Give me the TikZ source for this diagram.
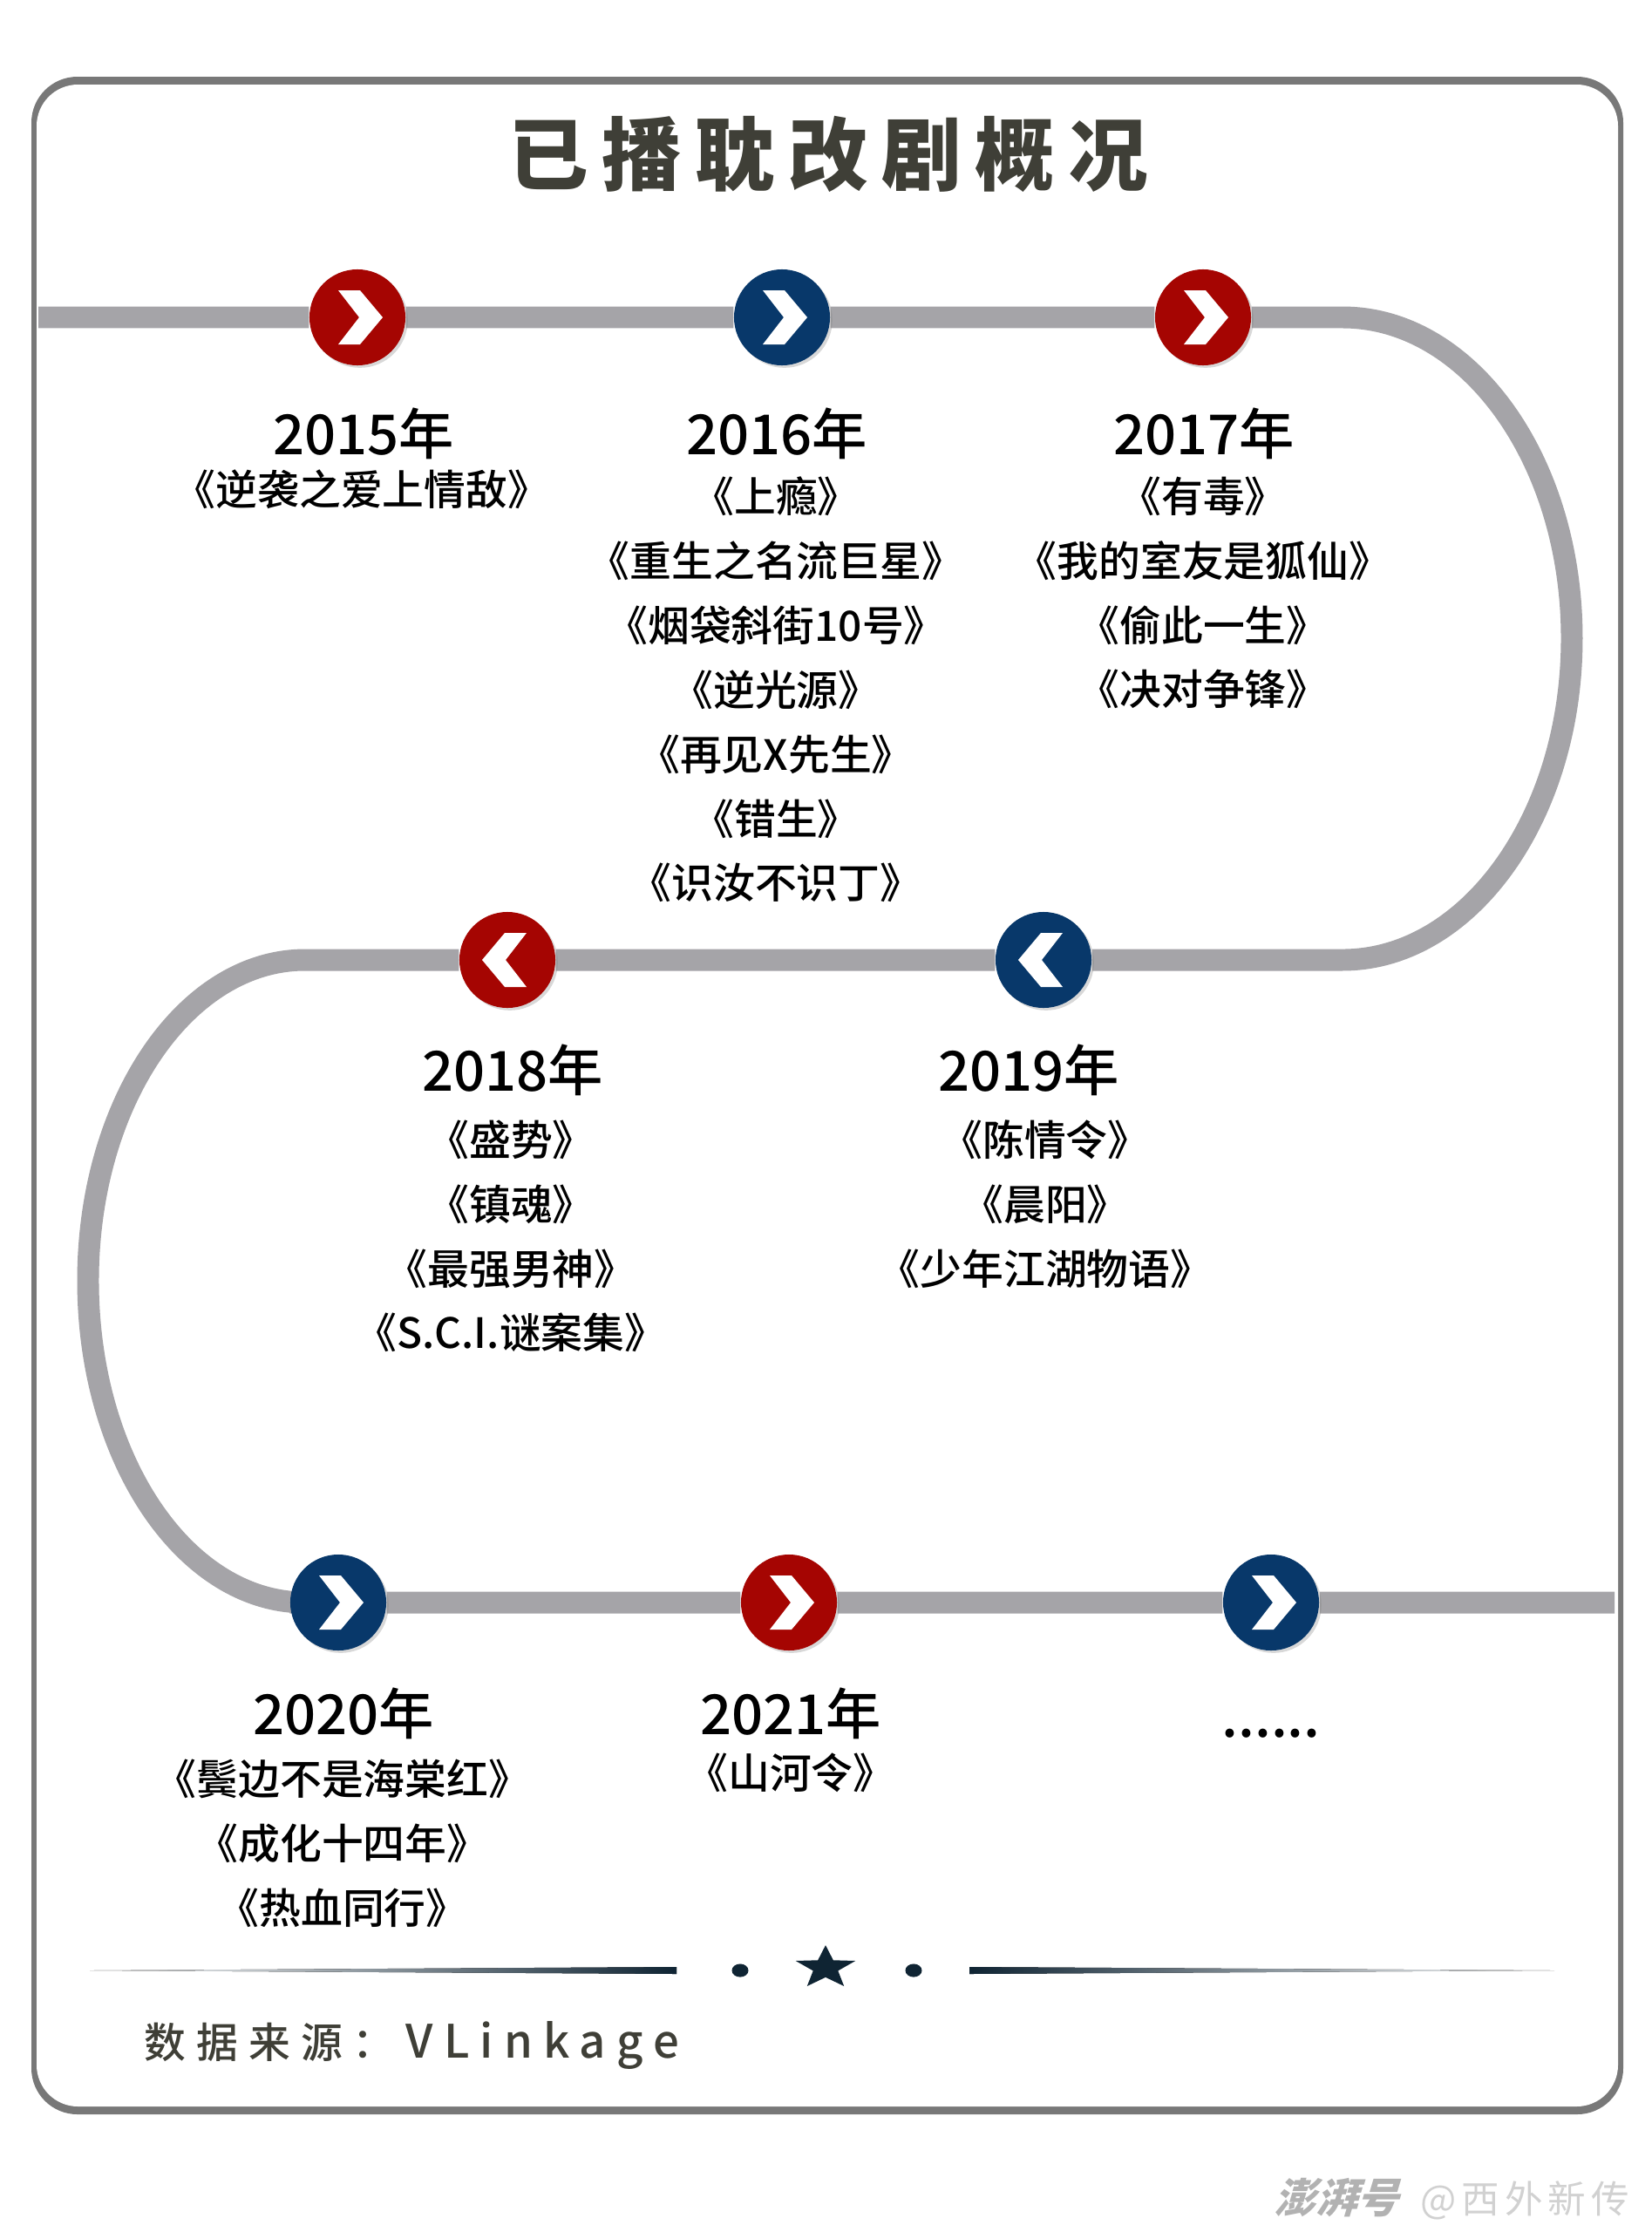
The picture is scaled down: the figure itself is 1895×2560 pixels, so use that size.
\documentclass[tikz,border=0pt]{standalone}
\usepackage{fontspec}
\setmainfont{Noto Sans CJK SC}
\newfontfamily\medfont{Noto Sans CJK SC Medium}
\usetikzlibrary{shapes.geometric,shadows,backgrounds}
\definecolor{trackgray}{HTML}{A5A4A8}
\definecolor{framegray}{HTML}{787878}
\definecolor{mred}{HTML}{A50502}
\definecolor{mblue}{HTML}{08386A}
\definecolor{titleink}{HTML}{3F3F37}
\definecolor{starink}{HTML}{0F2433}
\tikzset{
	milestone/.style={circle,minimum size=31.3pt,inner sep=0pt,fill=#1,drop shadow={opacity=0.3,shadow xshift=0.8pt,shadow yshift=-0.8pt}},
	chevron/.style={fill=white},
	yeartext/.style={font=\fontsize{18}{22}\medfont},
	listtext/.style={align=center,inner sep=0pt,font=\fontsize{13.6}{21}\medfont},
	divdot/.style={ellipse,fill=starink,minimum width=5.4pt,minimum height=4.3pt,inner sep=0pt},
}
\begin{document}
\begin{tikzpicture}[x=0.01cm,y=-0.01cm]
	\useasboundingbox (0,0) rectangle (1895,2560);
	% milestones
	\node[milestone=mred] (m2015) at (410,364) {};
	\node[milestone=mblue] (m2016) at (897,364) {};
	\node[milestone=mred] (m2017) at (1380,364) {};
	\node[milestone=mred] (m2018) at (582,1101) {};
	\node[milestone=mblue] (m2019) at (1197,1101) {};
	\node[milestone=mblue] (m2020) at (388,1838) {};
	\node[milestone=mred] (m2021) at (905,1838) {};
	\node[milestone=mblue] (mmore) at (1458,1838) {};
	% chevrons
	\foreach \m in {m2015,m2016,m2017,m2020,m2021,mmore}
		\fill[chevron,shift={(\m.center)}] (-22,-31) -- (3,-31) -- (29,0) -- (3,31) -- (-22,31) -- (2,0) -- cycle;
	\foreach \m in {m2018,m2019}
		\fill[chevron,shift={(\m.center)}] (22,-31) -- (-3,-31) -- (-29,0) -- (-3,31) -- (22,31) -- (-2,0) -- cycle;
	% frame and track
	\coordinate (trackstart) at (44,364);
	\coordinate (turnA) at (1540,364);
	\coordinate (turnB) at (1803,732);
	\coordinate (turnC) at (1540,1101);
	\coordinate (turnD) at (350,1101);
	\coordinate (turnE) at (101,1469);
	\coordinate (turnF) at (350,1838);
	\coordinate (trackend) at (1852,1838);
	\begin{scope}[on background layer]
		\fill[framegray,rounded corners=15pt] (36,88) rectangle (1862,2425);
		\fill[white,rounded corners=13.5pt] (42,97) rectangle (1856,2416);
		\draw[trackgray,line width=7.1pt] (trackstart) -- (m2015) -- (m2016) -- (m2017) -- (turnA)
			.. controls (1685,364) and (1803,528) .. (turnB)
			.. controls (1803,936) and (1685,1101) .. (turnC)
			-- (m2019) -- (m2018) -- (turnD)
			.. controls (212,1101) and (101,1266) .. (turnE)
			.. controls (101,1673) and (212,1838) .. (turnF)
			-- (m2020) -- (m2021) -- (mmore) -- (trackend);
	\end{scope}
	% title
	\node[text=titleink,font=\fontsize{26}{30}\selectfont\bfseries\addfontfeature{LetterSpace=17}] (title) at (950,177) {已播耽改剧概况};
	% years and lists
	\node[yeartext] (y2015) at (417,497) {2015年};
	\node[yeartext] (y2016) at (891,497) {2016年};
	\node[yeartext] (y2017) at (1381,497) {2017年};
	\node[yeartext] (y2018) at (588,1227) {2018年};
	\node[yeartext] (y2019) at (1180,1227) {2019年};
	\node[yeartext] (y2020) at (394,1965) {2020年};
	\node[yeartext] (y2021) at (907,1965) {2021年};
	\node[listtext] (l2015) at (415,561) {《逆袭之爱上情敌》};
	\node[listtext] (l2016) at (890,791) {《上瘾》\\《重生之名流巨星》\\《烟袋斜街10号》\\《逆光源》\\《再见X先生》\\《错生》\\《识汝不识丁》};
	\node[listtext] (l2017) at (1380,680) {《有毒》\\《我的室友是狐仙》\\《偷此一生》\\《决对争锋》};
	\node[listtext] (l2018) at (586,1418) {《盛势》\\《镇魂》\\《最强男神》\\《S.C.I.谜案集》};
	\node[listtext] (l2019) at (1199,1381) {《陈情令》\\《晨阳》\\《少年江湖物语》};
	\node[listtext] (l2020) at (393,2114) {《鬓边不是海棠红》\\《成化十四年》\\《热血同行》};
	\node[listtext] (l2021) at (907,2033) {《山河令》};
	\node[yeartext] (ymore) at (1458,1988) {......};
	% divider
	\fill[left color=white,right color=starink] (103,2260) -- (776,2256) -- (776,2264) -- cycle;
	\fill[left color=starink,right color=white] (1112,2256) -- (1783,2260) -- (1112,2264) -- cycle;
	\node[star,star points=5,star point ratio=2.4,fill=starink,minimum size=20.5pt,inner sep=0pt,yscale=0.72,transform shape] (divstar) at (947,2257) {};
	\node[divdot] (divdotl) at (849,2260) {};
	\node[divdot] (divdotr) at (1048,2260) {};
	% source and mark
	\node[anchor=west,text=titleink,inner sep=0pt,font=\fontsize{13.6}{16}\medfont] (source) at (165,2346) {{\addfontfeature{LetterSpace=25}数据来源：}\hspace{3.7pt}{\addfontfeature{LetterSpace=23}\fontsize{15}{16}\selectfont VLinkage}};
	\node[anchor=east,text=black!18,inner sep=0pt,font=\fontsize{12.4}{14}\selectfont] (mark) at (1870,2522) {{\fontsize{13.5}{14}\selectfont\addfontfeature{FakeSlant=0.3}\bfseries\color{black!30}澎湃号}\ \ \hspace{1.5pt}{\addfontfeature{LetterSpace=14}@西外新传}};
\end{tikzpicture}
\end{document}
